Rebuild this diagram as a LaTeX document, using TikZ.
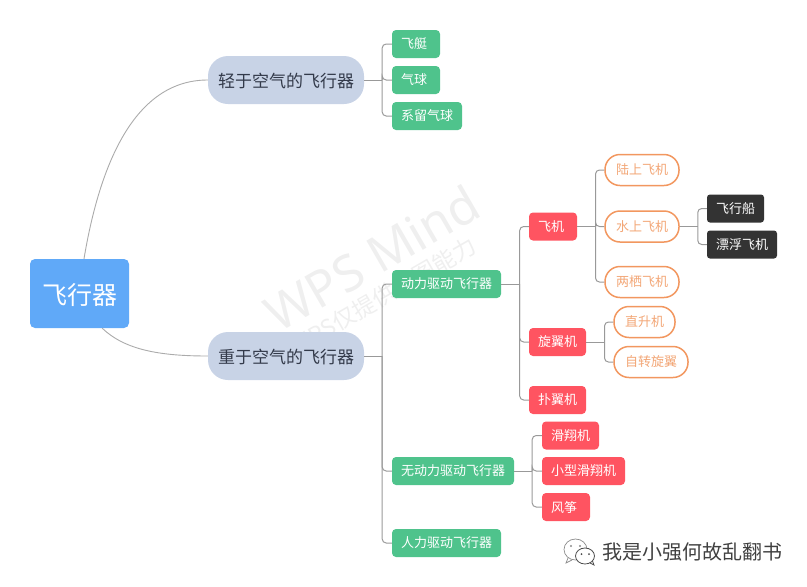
\documentclass[tikz,border=0pt]{standalone}
\usepackage{fontspec}
\setmainfont{Noto Sans CJK SC}
\newfontfamily\wmfont{Noto Sans}
\definecolor{grn}{HTML}{4FC38C}
\definecolor{redb}{HTML}{FF5461}
\definecolor{blu}{HTML}{60A9F8}
\definecolor{slate}{HTML}{C8D3E6}
\definecolor{ink}{HTML}{333A4A}
\definecolor{orng}{HTML}{F2975F}
\definecolor{orngt}{HTML}{F3A777}
\definecolor{blk}{HTML}{333333}
\definecolor{lin}{HTML}{999999}
\definecolor{wm}{HTML}{EFEFEF}
\tikzset{
  base/.style={inner sep=0pt,minimum height=28pt,font=\fontsize{13}{15}\selectfont,inner xsep=9pt,align=left},
  grnbox/.style={base,fill=grn,text=white,rounded corners=4pt},
  redbox/.style={base,fill=redb,text=white,rounded corners=4pt},
  blkbox/.style={base,fill=blk,text=white,rounded corners=3pt},
  orbox/.style={draw=orng,line width=1.5pt,fill=white,text=orngt,rounded corners=15pt,inner sep=0pt,minimum height=31pt,font=\fontsize{13}{15}\selectfont,align=center},
  midbox/.style={fill=slate,text=ink,rounded corners=20pt,inner sep=0pt,minimum width=156pt,minimum height=48pt,font=\fontsize{17}{20}\selectfont,align=center},
  rootbox/.style={fill=blu,text=white,rounded corners=5pt,inner sep=0pt,minimum width=99pt,minimum height=69pt,font=\fontsize{25}{28}\selectfont,align=center},
  conn/.style={draw=lin,line width=1pt,rounded corners=4pt},
  curve/.style={draw=black!33,line width=0.9pt},
  wmark/.style={text=wm,inner sep=0pt,rotate=30},
}
\begin{document}
\begin{tikzpicture}[x=1pt,y=-1pt]
\useasboundingbox (0,0) rectangle (807,587);
% watermark
\node[wmark,font=\wmfont\fontsize{50}{54}\selectfont] (wm1) at (372,258) {WPS Mind};
\node[wmark,font=\fontsize{23}{26}\selectfont] (wm2) at (383,296) {WPS仅提供作图能力};
% nodes
\node[rootbox] (root) at (79.5,293.5) {\raisebox{-2pt}[\height][\depth]{飞行器}};
\node[midbox] (a) at (286,80) {\raisebox{-1pt}[\height][\depth]{轻于空气的飞行器}};
\node[midbox] (b) at (286,356) {\raisebox{-1pt}[\height][\depth]{重于空气的飞行器}};
\node[grnbox,text width=30pt] (a1) at (416,44) {飞艇};
\node[grnbox,text width=30pt] (a2) at (416,80) {气球};
\node[grnbox,text width=52pt] (a3) at (427,116) {系留气球};
\node[grnbox,text width=91pt] (b1) at (446.5,284) {动力驱动飞行器};
\node[grnbox,text width=104pt] (b2) at (453,471) {无动力驱动飞行器};
\node[grnbox,text width=91pt] (b3) at (446.5,543) {人力驱动飞行器};
\node[redbox,text width=30pt] (c1) at (553,226.5) {飞机};
\node[redbox,text width=39pt] (c2) at (557.5,342) {旋翼机};
\node[redbox,text width=39pt] (c3) at (557.5,400) {扑翼机};
\node[redbox,text width=39pt] (d1) at (570.5,435.5) {滑翔机};
\node[redbox,text width=65pt] (d2) at (583.5,471) {小型滑翔机};
\node[redbox,text width=30pt] (d3) at (566,507) {风筝};
\node[orbox,minimum width=74pt] (e1) at (642,170) {陆上飞机};
\node[orbox,minimum width=74pt] (e2) at (642,226.5) {水上飞机};
\node[orbox,minimum width=74pt] (e3) at (642,282) {两栖飞机};
\node[orbox,minimum width=61pt] (f1) at (644.5,322) {直升机};
\node[orbox,minimum width=74pt] (f2) at (651,362) {自转旋翼};
\node[blkbox,text width=39pt] (g1) at (735.5,208.5) {飞行船};
\node[blkbox,text width=52pt] (g2) at (742,244.5) {漂浮飞机};
% trunks
\coordinate (ta) at ([xshift=18pt]a.east);
\coordinate (tb) at ([xshift=18pt]b.east);
\coordinate (tb1) at ([xshift=18.5pt]b1.east);
\coordinate (tb2) at ([xshift=18pt]b2.east);
\coordinate (tc1) at ([xshift=18.3pt]c1.east);
\coordinate (tc2) at ([xshift=18.3pt]c2.east);
\coordinate (te2) at ([xshift=18pt]e2.east);
% connectors
\draw[curve] ([xshift=4.5pt]root.north) .. controls (98,175) and (130,80) .. (a.west);
\draw[curve] ([xshift=-27pt]root.south east) .. controls (125,350) and (160,356) .. (b.west);
\draw[conn] (a.east) -- (ta);
\draw[conn] (b.east) -- (tb);
\draw[conn] (b1.east) -- (tb1);
\draw[conn] (b2.east) -- (tb2);
\draw[conn] (c1.east) -- (tc1);
\draw[conn] (c2.east) -- (tc2);
\draw[conn] (e2.east) -- (te2);
\foreach \t in {a1,a2,a3} \draw[conn] (ta) |- (\t.west);
\foreach \t in {b1,b2,b3} \draw[conn] (tb) |- (\t.west);
\foreach \t in {c1,c2,c3} \draw[conn] (tb1) |- (\t.west);
\foreach \t in {d1,d2,d3} \draw[conn] (tb2) |- (\t.west);
\foreach \t in {e1,e2,e3} \draw[conn] (tc1) |- (\t.west);
\foreach \t in {f1,f2} \draw[conn] (tc2) |- (\t.west);
\foreach \t in {g1,g2} \draw[conn] (te2) |- (\t.west);
% signature
\draw[black!45,line width=0.7pt,fill=white] (575.5,549.5) ellipse [x radius=11.5,y radius=10.5];
\draw[black!45,line width=0.7pt] (568,558) -- (566,563) -- (572,560);
\fill[black!45] (571,546) circle (1.1) (580,546) circle (1.1);
\draw[black!70,line width=0.8pt,fill=white] (585,556) ellipse [x radius=9.5,y radius=8];
\draw[black!70,line width=0.8pt] (590,563) -- (594,565) -- (592.5,561);
\fill[black!70] (581.5,554) circle (1) (589,554) circle (1);
\node[inner sep=0pt,text=black!75,font=\fontsize{20}{24}\selectfont] (sig) at (692.5,552) {我是小强何故乱翻书};
\end{tikzpicture}
\end{document}
